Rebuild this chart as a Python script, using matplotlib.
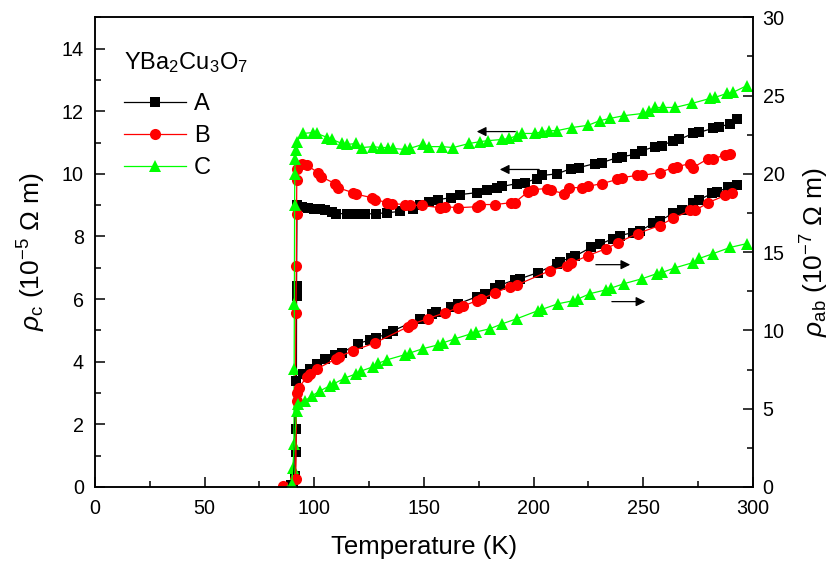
import matplotlib
matplotlib.use("Agg")
import matplotlib.pyplot as plt
from matplotlib.ticker import MultipleLocator

plt.rcParams['font.family'] = ['Liberation Sans', 'DejaVu Sans']
plt.rcParams['mathtext.fontset'] = 'custom'
plt.rcParams['mathtext.rm'] = 'Liberation Sans'
plt.rcParams['mathtext.it'] = 'Liberation Sans:italic'
plt.rcParams['mathtext.sf'] = 'Liberation Sans'

# ---- rho_c (left axis, 1e-5 Ohm m) ----
T_A_c = [89.3, 91.3, 91.6, 91.8, 91.9, 91.9, 92.1, 94.4, 96.9, 99.9, 102.6, 105.0, 108.0, 110.0, 114.9,
         119.1, 123.2, 128.2, 133.3, 139.1, 145.0, 148.4, 152.4, 156.5, 162.5, 166.6, 174.2, 178.7, 183.2, 185.8,
         192.4, 195.9, 201.5, 203.9, 210.7, 217.1, 220.6, 228.0, 231.2, 238.1, 240.3, 246.2, 249.4, 255.4,
         258.5, 263.5, 266.5, 272.6, 275.6, 281.7, 284.7, 289.6, 292.8]
rho_A_c = [0.05, 0.35, 1.12, 1.86, 6.11, 6.43, 9.0, 8.95, 8.92, 8.89, 8.89, 8.83, 8.78, 8.73, 8.73,
           8.73, 8.72, 8.73, 8.76, 8.80, 8.89, 9.0, 9.11, 9.18, 9.24, 9.34, 9.40, 9.50, 9.56, 9.60,
           9.69, 9.72, 9.85, 9.95, 10.0, 10.17, 10.2, 10.33, 10.36, 10.52, 10.55, 10.62, 10.74, 10.87,
           10.9, 11.06, 11.1, 11.29, 11.33, 11.45, 11.5, 11.6, 11.74]

T_B_c = [85.8, 91.2, 91.6, 91.8, 91.9, 92.0, 92.1, 94.4, 96.7, 101.7, 103.0, 109.4, 110.6, 117.6, 119.1,
         126.2, 127.7, 133.3, 135.3, 141.3, 143.4, 149.1, 157.3, 159.5, 165.6, 174.2, 175.7, 182.4, 189.8, 191.3,
         197.5, 199.9, 206.0, 208.0, 214.0, 216.1, 222.1, 224.6, 231.2, 238.1, 240.3, 247.1, 249.4, 257.4, 263.5,
         265.5, 271.3, 272.6, 279.7, 281.7, 287.3, 289.6]
rho_B_c = [0.03, 0.26, 5.56, 7.07, 8.73, 9.79, 10.17, 10.3, 10.27, 10.04, 9.91, 9.69, 9.56, 9.40, 9.35,
           9.24, 9.18, 9.08, 9.05, 9.02, 9.0, 8.99, 8.92, 8.95, 8.92, 8.95, 9.02, 9.02, 9.08, 9.08,
           9.43, 9.50, 9.53, 9.47, 9.37, 9.56, 9.56, 9.60, 9.69, 9.82, 9.88, 9.95, 9.95, 10.04, 10.2,
           10.23, 10.33, 10.2, 10.49, 10.49, 10.59, 10.65]

T_C_c = [89.3, 90.5, 90.7, 90.8, 90.9, 91.0, 91.1, 91.3, 91.5, 91.9, 94.9, 99.4, 101.2, 106.0, 108.0, 112.6,
         115.1, 119.1, 121.8, 126.8, 130.2, 133.8, 135.9, 141.3, 143.4, 149.4, 152.4, 158.2, 163.3, 170.6, 175.7,
         179.2, 185.8, 188.8, 192.4, 194.9, 200.6, 203.9, 207.0, 210.7, 217.5, 224.8, 230.2, 234.8, 241.3, 249.9,
         252.4, 255.4, 259.0, 264.5, 272.2, 280.5, 282.7, 288.1, 290.8, 297.3]
rho_C_c = [0.1, 0.6, 1.37, 3.77, 5.85, 8.99, 10.0, 10.46, 10.75, 11.03, 11.29, 11.32, 11.29, 11.16, 11.1, 10.97,
           10.94, 10.97, 10.84, 10.87, 10.84, 10.84, 10.81, 10.78, 10.81, 10.94, 10.87, 10.87, 10.84, 10.97, 11.03,
           11.06, 11.1, 11.13, 11.22, 11.29, 11.29, 11.35, 11.38, 11.38, 11.48, 11.55, 11.7, 11.77, 11.86, 11.93,
           12.0, 12.12, 12.12, 12.12, 12.25, 12.41, 12.44, 12.57, 12.6, 12.82]

# ---- rho_ab (right axis, 1e-7 Ohm m) ----
T_A_ab = [90.4, 91.7, 94.9, 97.9, 101.0, 104.9, 109.4, 112.6, 119.9, 125.2, 128.2, 133.3, 135.9, 148.2, 153.5, 155.5,
          162.5, 165.6, 174.2, 177.7, 182.4, 184.8, 191.5, 193.8, 201.9, 210.7, 212.0, 217.1, 218.9, 226.2, 230.2, 236.2,
          239.3, 245.3, 248.4, 254.4, 257.4, 263.5, 267.5, 272.6, 275.6, 281.4, 283.7, 288.7, 292.8]
rho_A_ab = [0.1, 6.78, 7.23, 7.55, 7.87, 8.19, 8.45, 8.57, 9.15, 9.4, 9.53, 9.79, 9.98, 10.75, 11.07, 11.15,
            11.5, 11.7, 12.16, 12.35, 12.73, 12.9, 13.24, 13.3, 13.69, 14.27, 14.4, 14.65, 14.75, 15.3, 15.5, 15.87,
            16.06, 16.25, 16.35, 16.83, 17.0, 17.47, 17.66, 18.17, 18.36, 18.75, 18.85, 19.13, 19.32]

T_B_ab = [91.5, 91.9, 92.3, 92.9, 96.6, 97.9, 101.2, 110.0, 111.1, 117.7, 127.7, 142.8, 144.4, 151.8, 159.5, 165.6,
          167.6, 174.2, 176.2, 182.4, 189.2, 192.3, 207.5, 215.0, 217.1, 224.8, 233.2, 238.3, 247.4, 257.4, 263.5,
          271.3, 273.6, 279.7, 287.3, 290.5]
rho_B_ab = [0.5, 5.5, 6.0, 6.33, 7.04, 7.2, 7.55, 8.19, 8.32, 8.7, 9.21, 10.24, 10.4, 10.75, 11.13, 11.45,
            11.55, 11.9, 12.0, 12.4, 12.8, 12.9, 13.82, 14.14, 14.3, 14.78, 15.23, 15.6, 16.19, 16.7, 17.15,
            17.66, 17.66, 18.17, 18.62, 18.75]

T_C_ab = [89.7, 91.9, 92.4, 95.7, 98.9, 102.6, 107.0, 109.0, 114.1, 119.1, 121.2, 126.8, 129.2, 133.3, 141.3, 143.4,
          149.4, 156.5, 158.5, 164.2, 171.6, 173.7, 180.1, 185.8, 192.4, 201.9, 203.9, 211.0, 218.1, 220.1, 225.7,
          233.2, 235.2, 241.3, 249.4, 256.2, 258.5, 264.5, 272.6, 275.6, 281.7, 289.6, 297.3]
rho_C_ab = [0.2, 4.86, 5.31, 5.5, 5.82, 6.14, 6.46, 6.6, 6.97, 7.23, 7.4, 7.68, 7.9, 8.13, 8.45, 8.55,
            8.83, 9.08, 9.2, 9.47, 9.79, 9.9, 10.11, 10.43, 10.75, 11.26, 11.35, 11.7, 11.9, 12.0, 12.35,
            12.6, 12.7, 12.99, 13.3, 13.63, 13.7, 14.0, 14.33, 14.6, 14.9, 15.3, 15.55]

samples = ['A', 'B', 'C']
colors = {'A': '#000000', 'B': '#ff0000', 'C': '#00ff00'}
markers = {'A': 's', 'B': 'o', 'C': '^'}
msize = {'A': 7.2, 'B': 8, 'C': 8.5}

fig = plt.figure(figsize=(8.37, 5.63), dpi=100)
ax = fig.add_axes([0.1135, 0.135, 0.7861, 0.8343])
ax2 = ax.twinx()

rho_c = {'A': (T_A_c, rho_A_c), 'B': (T_B_c, rho_B_c), 'C': (T_C_c, rho_C_c)}
rho_ab = {'A': (T_A_ab, rho_A_ab), 'B': (T_B_ab, rho_B_ab), 'C': (T_C_ab, rho_C_ab)}

handles = []
for s in samples:
    t, r = rho_c[s]
    h, = ax.plot(t, r, color=colors[s], marker=markers[s], ms=msize[s], lw=0.9,
                 markeredgewidth=0, label=s)
    handles.append(h)
    t, r = rho_ab[s]
    ax2.plot(t, r, color=colors[s], marker=markers[s], ms=msize[s], lw=0.9,
             markeredgewidth=0)

ax.set_xlim(0, 300)
ax.set_ylim(0, 15)
ax2.set_ylim(0, 30)

ax.xaxis.set_major_locator(MultipleLocator(50))
ax.xaxis.set_minor_locator(MultipleLocator(25))
ax.yaxis.set_major_locator(MultipleLocator(2))
ax.yaxis.set_minor_locator(MultipleLocator(1))
ax2.yaxis.set_major_locator(MultipleLocator(5))
ax2.yaxis.set_minor_locator(MultipleLocator(2.5))

for a in (ax, ax2):
    a.tick_params(which='major', direction='in', length=7, width=1.1, labelsize=14.2, pad=8)
    a.tick_params(which='minor', direction='in', length=4.3, width=1.1)
    for sp in a.spines.values():
        sp.set_linewidth(1.1)
ax.tick_params(axis='x', pad=9)
ax2.tick_params(axis='y', pad=7)

ax.set_xlabel('Temperature (K)', fontsize=18.5, labelpad=12)
ax.set_ylabel(r'$\rho_\mathrm{c}$ (10$^{-5}$ Ω m)', fontsize=19, labelpad=10)
ax2.set_ylabel(r'$\rho_\mathrm{ab}$ (10$^{-7}$ Ω m)', fontsize=19, labelpad=10)

# arrows pointing to the axis each group of curves belongs to
arrow_kw = dict(arrowstyle='-|>', color='black', lw=0.9, mutation_scale=14)
ax.annotate('', xy=(172.8, 11.35), xytext=(192.9, 11.35), arrowprops=arrow_kw)
ax.annotate('', xy=(183.3, 10.14), xytext=(203.8, 10.14), arrowprops=arrow_kw)
ax.annotate('', xy=(245.3, 7.1), xytext=(227.1, 7.1), arrowprops=arrow_kw)
ax.annotate('', xy=(252.2, 5.92), xytext=(234.4, 5.92), arrowprops=arrow_kw)

leg = ax.legend(handles=handles, loc='upper left', bbox_to_anchor=(0.012, 0.975),
                frameon=False, fontsize=17, handlelength=2.6, labelspacing=0.42,
                handletextpad=0.35, title=r'YBa$_2$Cu$_3$O$_7$', title_fontsize=17)
leg._legend_box.align = 'left'
leg._legend_box.sep = 13

fig.savefig('out.png', dpi=100)
